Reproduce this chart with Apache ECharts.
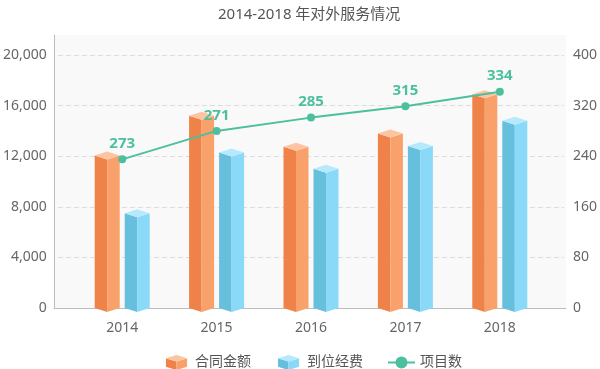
<!DOCTYPE html>
<html>
<head>
<meta charset="utf-8">
<script src="https://cdn.jsdelivr.net/npm/echarts@6/dist/echarts.min.js"></script>
<style>html,body{margin:0;padding:0;background:#fff;}#c{width:600px;height:369px;}</style>
</head>
<body>
<div id="c"></div>
<script>
const categories = ['2014', '2015', '2016', '2017', '2018'];
const contractAmount = [12050, 15200, 12750, 13800, 16900];
const fundsReceived = [7500, 12300, 11000, 12800, 14800];
const projectCount = [235, 280, 301, 319, 342];
const projectLabels = ['273', '271', '285', '315', '334'];
const seriesNames = ['合同金额', '到位经费', '项目数'];
const titleText = '2014-2018 年对外服务情况';

const FONT = "'Noto Sans', 'Noto Sans CJK SC', sans-serif";
const ORANGE = {dark: '#ee8249', light: '#f9a16b', top: '#fdc4a2'};
const BLUE = {dark: '#66bfdc', light: '#8ad9f8', top: '#b5e9fd'};
const GREEN = '#4cbf9e';

function cubeIcon(c) {
  const svg = '<svg xmlns="http://www.w3.org/2000/svg" width="20" height="14" viewBox="0 0 20 14">' +
    '<polygon points="0,3 10,6 10,14 0,11" fill="' + c.dark + '"/>' +
    '<polygon points="10,6 20,3 20,11 10,14" fill="' + c.light + '"/>' +
    '<polygon points="0,3 10,0 20,3 10,6" fill="' + c.top + '"/>' +
    '</svg>';
  return 'image://data:image/svg+xml;charset=utf-8,' + encodeURIComponent(svg);
}

function cubeRender(offset, c) {
  return function (params, api) {
    const idx = api.value(0);
    const val = api.value(1);
    const top = api.coord([idx, val]);
    const base = api.coord([idx, 0]);
    const w = 25, h = 4;
    const cx = top[0] + offset;
    const l = cx - w / 2, r = cx + w / 2;
    const yt = top[1], yb = base[1];
    return {
      type: 'group',
      children: [
        {type: 'polygon', shape: {points: [[l, yt], [cx, yt + h], [cx, yb + h], [l, yb]]}, style: {fill: c.dark}},
        {type: 'polygon', shape: {points: [[cx, yt + h], [r, yt], [r, yb], [cx, yb + h]]}, style: {fill: c.light}},
        {type: 'polygon', shape: {points: [[l, yt], [cx, yt - h], [r, yt], [cx, yt + h]]}, style: {fill: c.top}}
      ]
    };
  };
}

const chart = echarts.init(document.getElementById('c'));
chart.setOption({
  animation: false,
  textStyle: {fontFamily: FONT},
  title: {
    text: titleText, left: 213, top: 2,
    textStyle: {fontSize: 15, fontWeight: 'normal', color: '#555', fontFamily: FONT}
  },
  legend: {
    left: 158, top: 350, itemWidth: 27, itemHeight: 15, itemGap: 24,
    textStyle: {fontSize: 14, color: '#555', fontFamily: FONT},
    data: [
      {name: seriesNames[0], icon: cubeIcon(ORANGE)},
      {name: seriesNames[1], icon: cubeIcon(BLUE)},
      {name: seriesNames[2]}
    ]
  },
  grid: [
    {left: 54, right: 34, top: 35, bottom: 61, show: true, backgroundColor: '#f9f9f9', borderWidth: 0},
    {left: 54, right: 34, top: 55, bottom: 61},
    {left: 75, right: 53, top: 55, bottom: 61}
  ],
  xAxis: [
    {gridIndex: 0, type: 'value', min: 0, max: 1, axisLine: {show: true, lineStyle: {color: '#bdbdbd'}}, axisTick: {show: false}, axisLabel: {show: false}, splitLine: {show: false}},
    {gridIndex: 1, type: 'value', min: 0, max: 1, show: false},
    {gridIndex: 2, type: 'category', data: categories,
      axisLine: {show: false}, axisTick: {show: false},
      axisLabel: {color: '#666', fontSize: 14, margin: 13, fontFamily: FONT}}
  ],
  yAxis: [
    {gridIndex: 0, type: 'value', min: 0, max: 1, axisLine: {show: true, lineStyle: {color: '#bdbdbd'}}, axisTick: {show: false}, axisLabel: {show: false}, splitLine: {show: false}},
    {gridIndex: 1, type: 'value', min: 0, max: 20000, interval: 4000, position: 'left',
      axisLine: {show: false}, axisTick: {show: false},
      axisLabel: {color: '#666', fontSize: 14, margin: 11, fontFamily: FONT,
        formatter: v => v.toLocaleString('en-US')},
      splitLine: {show: true, lineStyle: {color: '#dcdcdc', type: [5, 3]}}},
    {gridIndex: 1, type: 'value', min: 0, max: 400, interval: 80, position: 'right',
      axisLine: {show: false}, axisTick: {show: false},
      axisLabel: {color: '#666', fontSize: 14, margin: 9, fontFamily: FONT},
      splitLine: {show: false}},
    {gridIndex: 2, type: 'value', min: 0, max: 20000, show: false},
    {gridIndex: 2, type: 'value', min: 0, max: 400, show: false}
  ],
  series: [
    {
      name: seriesNames[0], type: 'custom', xAxisIndex: 2, yAxisIndex: 3,
      itemStyle: {color: ORANGE.light},
      renderItem: cubeRender(-15, ORANGE),
      encode: {x: 0, y: 1},
      data: contractAmount.map((v, i) => [i, v])
    },
    {
      name: seriesNames[1], type: 'custom', xAxisIndex: 2, yAxisIndex: 3,
      itemStyle: {color: BLUE.light},
      renderItem: cubeRender(15, BLUE),
      encode: {x: 0, y: 1},
      data: fundsReceived.map((v, i) => [i, v])
    },
    {
      name: seriesNames[2], type: 'line', xAxisIndex: 2, yAxisIndex: 4, z: 5,
      data: projectCount,
      symbol: 'circle', symbolSize: 8,
      itemStyle: {color: GREEN},
      lineStyle: {color: GREEN, width: 2},
      label: {show: true, position: 'top', distance: 4, color: GREEN, fontSize: 15, fontWeight: 'bold', fontFamily: FONT,
        formatter: p => projectLabels[p.dataIndex]}
    }
  ]
});
</script>
</body>
</html>
